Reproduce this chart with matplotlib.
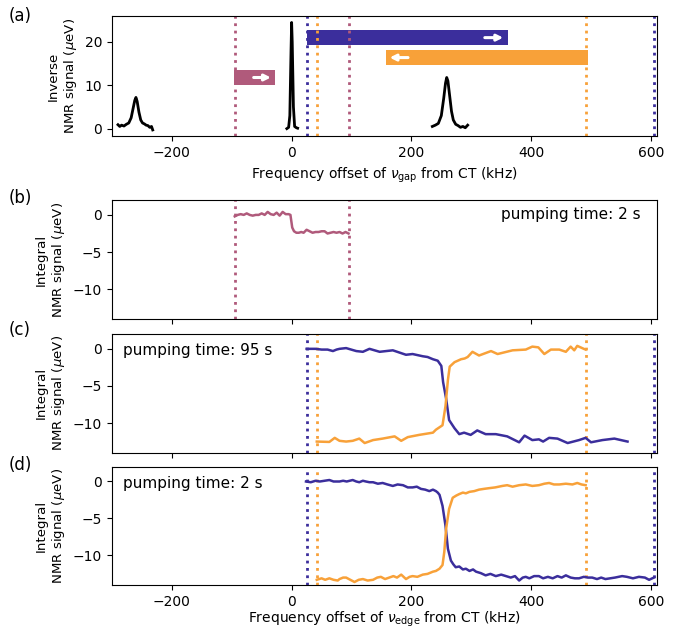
import numpy as np
import matplotlib.pyplot as plt

# colours
c_pink = '#b05a7b'
c_blue = '#3b2e9c'
c_orange = '#f8a139'

# (a) inverse NMR spectrum, three peaks
peak1_x = [-290, -287, -284, -280, -276, -272, -268, -265, -262, -260, -258, -255, -252, -249, -246, -243, -240, -237, -234, -232]
peak1_y = [0.9, 0.5, 0.8, 0.6, 1.0, 1.3, 2.5, 4.5, 6.5, 7.2, 6.3, 3.8, 2.0, 1.3, 1.1, 0.8, 0.7, 0.3, 0.5, -0.3]
peak2_x = [-8, -5, -3, -1, 0, 1, 3, 5, 8, 10]
peak2_y = [0.0, 0.3, 3.0, 18.0, 24.5, 20.0, 5.0, 0.5, 0.2, 0.1]
peak3_x = [235, 240, 245, 250, 254, 257, 259, 261, 264, 267, 270, 274, 278, 282, 286, 290, 294]
peak3_y = [0.5, 0.8, 1.2, 3.0, 7.0, 10.5, 11.8, 11.0, 7.5, 4.0, 2.0, 1.0, 0.7, 0.3, 0.5, 0.2, 0.8]

# sweep ranges (kHz): start, end, y-bottom, y-top
pink_range = (-96, -27, 10.1, 13.5)
blue_range = (25, 362, 19.3, 22.7)
orange_range = (157, 495, 14.7, 18.1)

pink_lines = [-95, 95]
blue_lines = [25, 605]
orange_lines = [42, 492]

# (b) pumping 2 s, pink sweep
b_x = [-95, -90, -85, -80, -75, -70, -65, -60, -55, -50, -45, -40, -35, -30, -25, -20, -15, -10, -5, -2,
       1, 4, 8, 12, 16, 20, 25, 30, 35, 40, 45, 50, 55, 60, 65, 70, 75, 80, 85, 90, 95]
b_y = [-0.2, 0.0, 0.1, 0.0, 0.2, 0.0, -0.1, 0.0, 0.0, 0.2, 0.0, 0.4, 0.1, 0.0, 0.3, -0.1, 0.4, 0.1, 0.1, 0.0,
       -1.7, -2.2, -2.4, -2.4, -2.3, -2.4, -2.0, -2.2, -2.4, -2.3, -2.3, -2.2, -2.2, -2.5, -2.4, -2.3, -2.4, -2.3, -2.5, -2.3, -2.5]

# (c) pumping 95 s
c_blue_x = [25, 40, 50, 60, 69, 75, 80, 91, 108, 119, 130, 147, 169, 191, 202, 219, 227, 236, 244, 250, 253, 258,
            263, 272, 280, 288, 299, 310, 324, 341, 360, 380, 389, 402, 413, 420, 430, 444, 461, 480, 491, 500,
            519, 539, 561]
c_blue_y = [0.0, 0.0, -0.1, -0.1, -0.3, -0.1, 0.0, 0.1, -0.3, -0.4, 0.0, -0.4, -0.2, -0.8, -0.7, -1.0, -1.1, -1.4,
            -1.6, -2.3, -4.5, -6.7, -9.6, -10.7, -11.5, -11.3, -11.6, -11.0, -11.5, -11.5, -11.8, -12.6, -11.7,
            -12.3, -12.2, -12.5, -12.0, -12.1, -12.7, -12.3, -12.0, -12.6, -12.3, -12.1, -12.5]
c_orange_x = [42, 63, 72, 80, 91, 102, 113, 122, 136, 152, 172, 183, 194, 213, 236, 241, 252, 257, 261, 264, 272,
              283, 289, 294, 302, 313, 333, 344, 369, 391, 402, 412, 422, 433, 447, 458, 466, 472, 477, 488, 491]
c_orange_y = [-12.5, -12.55, -12.0, -12.4, -12.5, -12.4, -12.1, -12.7, -12.3, -12.1, -11.8, -12.4, -11.9, -11.6,
              -11.3, -10.9, -10.3, -7.7, -4.2, -2.4, -1.8, -1.4, -1.3, -1.1, -0.4, -0.9, -0.3, -0.7, -0.2, -0.1,
              0.3, 0.2, -0.7, -0.1, -0.1, -0.4, 0.3, -0.2, 0.4, 0.0, -0.1]

# (d) pumping 2 s
d_blue_x = [24, 32, 40, 47, 55, 63, 70, 77, 80, 86, 92, 102, 108, 113, 119, 124, 130, 136, 144, 152, 160, 169,
            177, 186, 194, 202, 209, 216, 223, 230, 236, 241, 244, 247, 252, 257, 261, 266, 270, 274, 280, 286,
            291, 297, 303, 308, 316, 324, 332, 341, 350, 358, 366, 373, 380, 386, 391, 397, 405, 413, 420, 428,
            436, 444, 451, 458, 466, 473, 480, 488, 495, 502, 510, 517, 524, 532, 540, 552, 560, 570, 580, 590,
            597, 605]
d_blue_y = [0.0, -0.1, 0.1, 0.0, 0.1, 0.2, 0.0, 0.0, 0.0, 0.1, 0.0, 0.2, 0.0, -0.1, 0.1, 0.0, -0.1, -0.1, -0.3,
            -0.2, -0.4, -0.6, -0.4, -0.5, -0.8, -0.8, -0.7, -1.0, -1.1, -1.3, -1.1, -1.3, -1.5, -1.8, -3.3, -6.0,
            -9.1, -10.7, -11.2, -11.6, -11.5, -11.9, -11.8, -12.1, -11.9, -12.2, -12.4, -12.7, -12.5, -12.8,
            -12.6, -12.8, -13.0, -12.8, -13.4, -13.0, -12.9, -13.1, -12.8, -12.8, -13.1, -12.9, -13.1, -12.8,
            -13.0, -12.7, -13.0, -13.1, -13.1, -12.9, -13.0, -13.0, -13.2, -13.0, -13.2, -13.1, -13.0, -12.8,
            -12.9, -13.1, -12.9, -13.0, -13.3, -13.0]
d_orange_x = [42, 50, 56, 63, 70, 77, 80, 86, 91, 98, 105, 112, 119, 127, 136, 143, 149, 156, 163, 170, 176,
              183, 191, 197, 202, 210, 219, 227, 236, 241, 247, 252, 255, 258, 263, 269, 275, 280, 286, 291, 297,
              305, 313, 321, 330, 340, 352, 360, 369, 380, 391, 402, 413, 422, 430, 438, 447, 458, 469, 477, 484,
              491]
d_orange_y = [-13.3, -13.1, -13.3, -13.1, -13.3, -13.4, -13.2, -13.0, -13.0, -13.3, -13.6, -13.3, -13.2, -13.4,
              -13.3, -13.0, -12.9, -13.2, -13.0, -12.8, -13.0, -12.6, -13.2, -12.9, -12.8, -12.9, -12.6, -12.5,
              -12.2, -12.1, -11.8, -11.3, -9.5, -6.4, -3.7, -2.2, -1.9, -1.7, -1.5, -1.6, -1.4, -1.3, -1.1, -1.0,
              -0.9, -0.8, -0.6, -0.5, -0.7, -0.5, -0.4, -0.6, -0.5, -0.3, -0.2, -0.4, -0.4, -0.3, -0.4, -0.2, -0.4,
              -0.5]

xlim = (-300, 610)
xticks = [-200, 0, 200, 400, 600]

plt.rcParams['font.size'] = 10
fig = plt.figure(figsize=(6.8, 6.29), dpi=100)

boxes = [
    [0.1647, 0.7838, 0.8013, 0.1908],
    [0.1647, 0.4928, 0.8013, 0.1892],
    [0.1647, 0.2803, 0.8013, 0.1887],
    [0.1647, 0.0700, 0.8013, 0.1880],
]
axes = [fig.add_axes(b) for b in boxes]
for ax in axes:
    ax.set_xlim(*xlim)
    ax.set_xticks(xticks)

def vlines(ax, xs, color):
    for x in xs:
        ax.axvline(x, color=color, ls=':', lw=2)

# ---- (a)
ax = axes[0]
for px, py in [(peak1_x, peak1_y), (peak2_x, peak2_y), (peak3_x, peak3_y)]:
    ax.plot(px, py, color='k', lw=2)
vlines(ax, pink_lines, c_pink)
vlines(ax, blue_lines, c_blue)
vlines(ax, orange_lines, c_orange)
for (x0, x1, y0, y1), col in [(pink_range, c_pink), (blue_range, c_blue), (orange_range, c_orange)]:
    ax.fill_between([x0, x1], y0, y1, color=col, lw=0)
arr = dict(arrowstyle='-|>', color='white', lw=2.2, mutation_scale=9)
ax.annotate('', xy=(-30, 11.8), xytext=(-68, 11.8), arrowprops=arr)
ax.annotate('', xy=(358, 21.0), xytext=(318, 21.0), arrowprops=arr)
ax.annotate('', xy=(159, 16.4), xytext=(199, 16.4), arrowprops=arr)
ax.set_ylim(-1.7, 26)
ax.set_yticks([0, 10, 20])
ax.set_ylabel('Inverse\nNMR signal ($\\mu$eV)', fontsize=9.6)
ax.set_xlabel('Frequency offset of $\\nu_{\\rm gap}$ from CT (kHz)')

# ---- (b)
ax = axes[1]
ax.plot(b_x, b_y, color=c_pink, lw=1.8)
vlines(ax, pink_lines, c_pink)
ax.text(0.97, 0.88, 'pumping time: 2 s', transform=ax.transAxes, ha='right', va='center', fontsize=11)

# ---- (c)
ax = axes[2]
vlines(ax, blue_lines, c_blue)
vlines(ax, orange_lines, c_orange)
ax.plot(c_blue_x, c_blue_y, color=c_blue, lw=1.8)
ax.plot(c_orange_x, c_orange_y, color=c_orange, lw=1.8)
ax.text(0.02, 0.86, 'pumping time: 95 s', transform=ax.transAxes, ha='left', va='center', fontsize=11)

# ---- (d)
ax = axes[3]
vlines(ax, blue_lines, c_blue)
vlines(ax, orange_lines, c_orange)
ax.plot(d_blue_x, d_blue_y, color=c_blue, lw=1.8)
ax.plot(d_orange_x, d_orange_y, color=c_orange, lw=1.8)
ax.text(0.02, 0.86, 'pumping time: 2 s', transform=ax.transAxes, ha='left', va='center', fontsize=11)
ax.set_xlabel('Frequency offset of $\\nu_{\\rm edge}$ from CT (kHz)', labelpad=1)

for ax in axes[1:]:
    ax.set_ylim(-14, 2)
    ax.set_yticks([0, -5, -10])
    ax.set_ylabel('Integral\nNMR signal ($\\mu$eV)', fontsize=9.6)
for ax in axes[1:3]:
    ax.tick_params(labelbottom=False)

for lab, y in [('(a)', 0.975), ('(b)', 0.685), ('(c)', 0.475), ('(d)', 0.26)]:
    fig.text(0.012, y, lab, fontsize=12, va='center')

fig.savefig('out.png', dpi=100)
